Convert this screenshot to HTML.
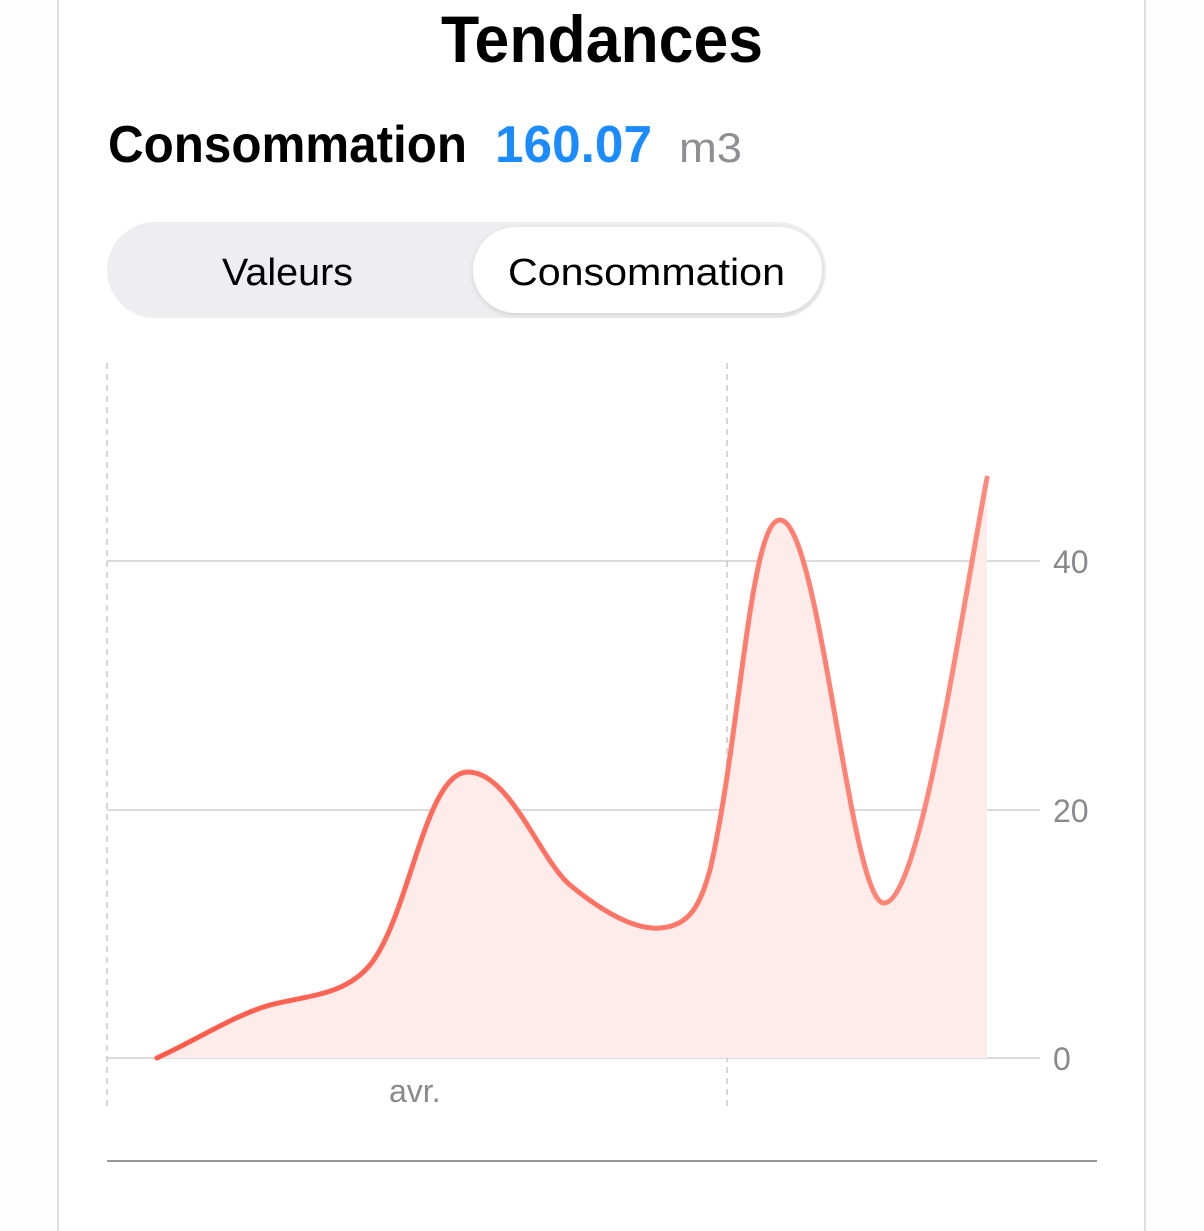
<!DOCTYPE html>
<html><head><meta charset="utf-8"><style>
html,body{margin:0;padding:0;background:#fff;width:1204px;height:1231px;overflow:hidden}
</style></head><body>
<svg width="1204" height="1231" viewBox="0 0 1204 1231" xmlns="http://www.w3.org/2000/svg" font-family="Liberation Sans, sans-serif">
<defs>
<linearGradient id="lg" x1="157" y1="0" x2="987" y2="0" gradientUnits="userSpaceOnUse">
<stop offset="0" stop-color="#ff5a4a"/><stop offset="1" stop-color="#ff8a7c"/>
</linearGradient>
<filter id="sh" x="-5%" y="-20%" width="110%" height="140%"><feDropShadow dx="0" dy="2" stdDeviation="3" flood-color="#000" flood-opacity="0.12"/></filter>
</defs>
<rect x="0" y="0" width="1204" height="1231" fill="#fdfdfd"/>
<rect x="58" y="-10" width="1087" height="1260" fill="#fff" stroke="#dedede" stroke-width="2"/>
<text x="602" y="62" text-anchor="middle" font-size="66" font-weight="bold" textLength="322" lengthAdjust="spacingAndGlyphs">Tendances</text>
<text x="108" y="162" font-size="52" font-weight="bold" textLength="359" lengthAdjust="spacingAndGlyphs">Consommation</text>
<text x="495" y="162" font-size="52" font-weight="bold" fill="#1a8cff" textLength="157" lengthAdjust="spacingAndGlyphs">160.07</text>
<text x="679" y="162" font-size="42" fill="#8e8e93" textLength="63" lengthAdjust="spacingAndGlyphs">m3</text>
<rect x="107" y="222" width="719" height="96" rx="48" fill="#eeeef0"/>
<rect x="473" y="227" width="349" height="86" rx="43" fill="#fff" filter="url(#sh)"/>
<text x="222" y="285" font-size="38" textLength="131" lengthAdjust="spacingAndGlyphs">Valeurs</text>
<text x="508" y="285" font-size="38" textLength="277" lengthAdjust="spacingAndGlyphs">Consommation</text>
<g stroke="#cfcfcf" stroke-width="1.5">
<line x1="107" y1="561" x2="1040" y2="561"/>
<line x1="107" y1="810" x2="1040" y2="810"/>
<line x1="107" y1="1058" x2="1040" y2="1058"/>
</g>
<g stroke="#c8c8c8" stroke-width="1.5" stroke-dasharray="6,5">
<line x1="107" y1="363" x2="107" y2="1110"/>
<line x1="727" y1="363" x2="727" y2="1110"/>
</g>
<path d="M157,1058 C200,1038 235,1015 270,1005 C310,995 345,995 370,965 C410,915 425,772 468,772 C510,772 540,860 570,885 C610,918 640,930 660,928 C690,926 700,905 710,870 C740,740 750,520 780,520 C820,520 850,903 884,903 C920,903 960,620 987,478 L987,1058 Z" fill="#feeceb"/>
<path d="M157,1058 C200,1038 235,1015 270,1005 C310,995 345,995 370,965 C410,915 425,772 468,772 C510,772 540,860 570,885 C610,918 640,930 660,928 C690,926 700,905 710,870 C740,740 750,520 780,520 C820,520 850,903 884,903 C920,903 960,620 987,478" fill="none" stroke="url(#lg)" stroke-width="5" stroke-linecap="round"/>
<g font-size="32" fill="#8a8a8e">
<text x="1053" y="573">40</text>
<text x="1053" y="822">20</text>
<text x="1053" y="1070">0</text>
<text x="389" y="1102">avr.</text>
</g>
<line x1="107" y1="1161" x2="1097" y2="1161" stroke="#777" stroke-width="1.5"/>
</svg>
</body></html>
